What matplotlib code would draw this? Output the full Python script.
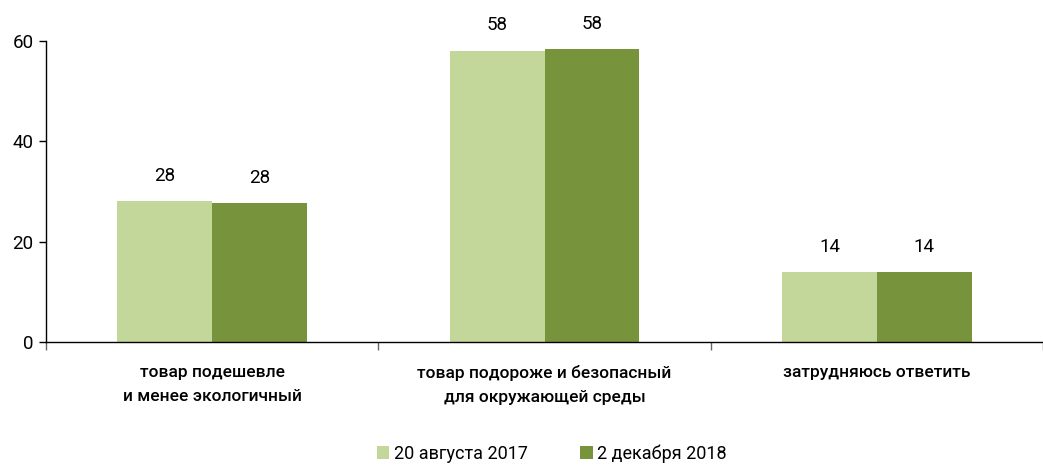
import numpy as np
import matplotlib.pyplot as plt

plt.rcParams['font.family'] = ['Roboto', 'DejaVu Sans']

categories = ["товар подешевле\nи менее экологичный",
              "товар подороже и безопасный\nдля окружающей среды",
              "затрудняюсь ответить"]
aug_2017 = [28.1, 58.1, 14.0]
dec_2018 = [27.7, 58.4, 14.0]
series_names = ["20 августа 2017", "2 декабря 2018"]

light = "#C4D79B"
dark = "#77933C"

fig = plt.figure(figsize=(10.43, 4.66), dpi=100)
ax = fig.add_axes([46 / 1043, 124 / 466, 997 / 1043, 301 / 466])

x = np.arange(len(categories))
w = 0.285
b1 = ax.bar(x - w / 2, aug_2017, w, color=light, label=series_names[0])
b2 = ax.bar(x + w / 2, dec_2018, w, color=dark, label=series_names[1])

# value labels above each bar
for bars in (b1, b2):
    for rect in bars:
        h = rect.get_height()
        ax.text(rect.get_x() + rect.get_width() / 2, h + 3.2, f"{h:.0f}",
                ha="center", va="bottom", fontsize=13.5, clip_on=False)

ax.set_ylim(0, 60)
ax.set_xlim(-0.5, -0.5 + 997 / 334.7)
ax.set_yticks([0, 20, 40, 60])
ax.tick_params(axis="y", labelsize=13.5, length=5, width=1, pad=4)

# ticks between categories, names written underneath
ax.set_xticks([-0.5, 0.5, 1.5, 2.5])
ax.set_xticklabels([])
ax.tick_params(axis="x", length=6, width=1, color="#666666")
for i, c in enumerate(categories):
    ax.text(i, -4.5, c, ha="center", va="top", fontsize=12.5,
            fontweight="medium", linespacing=1.75)

for s in ("top", "right"):
    ax.spines[s].set_visible(False)
ax.spines["left"].set_linewidth(1)
ax.spines["bottom"].set_linewidth(1)

fig.legend(handles=[b1, b2], labels=series_names, loc="center",
           bbox_to_anchor=(0.529, 0.026), ncol=2, frameon=False, fontsize=13,
           handlelength=0.7, handleheight=0.7, handletextpad=0.25,
           columnspacing=2.9, borderpad=0)

fig.savefig("out.png", dpi=100)
